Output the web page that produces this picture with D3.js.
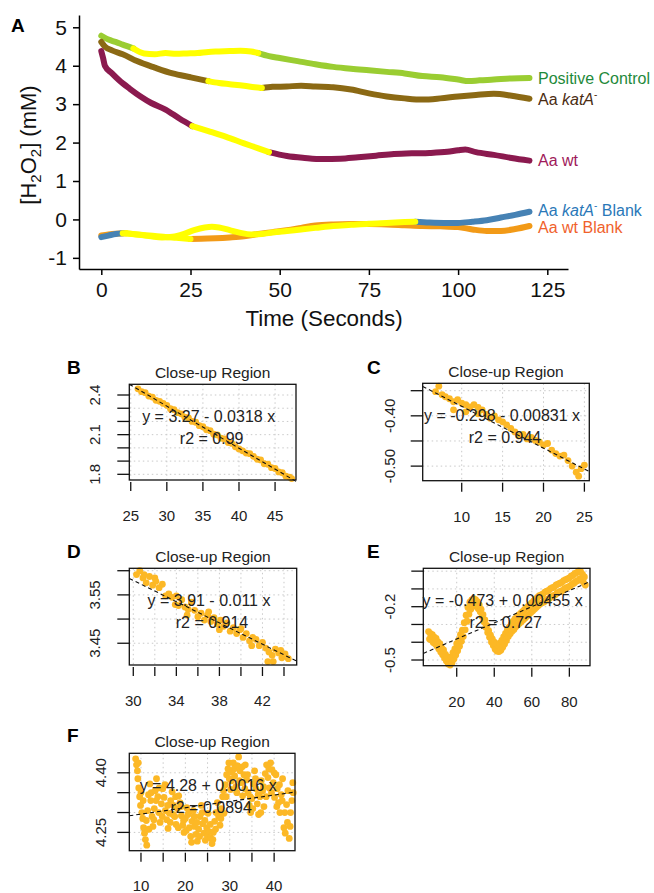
<!DOCTYPE html>
<html>
<head>
<meta charset="utf-8">
<script src="https://cdn.jsdelivr.net/npm/d3@7"></script>
<style>
body { margin: 0; background: #fff; }
svg { display: block; font-family: "Liberation Sans", Arial, sans-serif; }
</style>
</head>
<body>
<svg id="fig" width="654" height="893"></svg>
<script>
// ---------- panel A : H2O2 traces (time in s, value in mM) ----------
var posTime = [0, 2, 4, 6, 9, 12, 15, 18, 21, 24, 27, 30, 33, 36, 39, 42, 44, 47, 50, 55, 60, 65, 70, 75, 80, 85, 90, 95, 100, 103, 106, 110, 115, 120];
var posVal = [4.78, 4.68, 4.62, 4.55, 4.45, 4.32, 4.30, 4.33, 4.31, 4.32, 4.33, 4.36, 4.37, 4.38, 4.39, 4.37, 4.33, 4.25, 4.20, 4.12, 4.04, 3.97, 3.92, 3.88, 3.84, 3.80, 3.73, 3.70, 3.64, 3.60, 3.62, 3.64, 3.67, 3.68];

var katTime = [0, 1, 3, 6, 10, 15, 20, 25, 30, 33, 36, 40, 43, 45, 48, 52, 56, 60, 65, 70, 75, 80, 85, 90, 95, 100, 105, 110, 115, 120];
var katVal = [4.62, 4.50, 4.40, 4.30, 4.12, 3.95, 3.80, 3.70, 3.60, 3.55, 3.52, 3.48, 3.44, 3.42, 3.45, 3.46, 3.48, 3.46, 3.44, 3.38, 3.28, 3.20, 3.15, 3.12, 3.15, 3.20, 3.24, 3.27, 3.22, 3.14];

var wtTime = [0, 0.5, 1, 3, 5, 8, 11, 14, 18, 22, 25.5, 30, 35, 40, 44, 47, 52, 57, 62, 67, 72, 77, 82, 87, 92, 97, 100, 102, 105, 110, 115, 120];
var wtVal = [4.38, 4.20, 4.00, 3.80, 3.62, 3.40, 3.20, 3.03, 2.86, 2.62, 2.43, 2.30, 2.15, 1.98, 1.85, 1.75, 1.65, 1.60, 1.57, 1.58, 1.62, 1.66, 1.70, 1.72, 1.73, 1.76, 1.80, 1.82, 1.75, 1.68, 1.60, 1.53];

var katBlankTime = [0, 2, 4, 6, 8, 11, 14, 17, 20, 23, 26, 29, 31, 33, 36, 39, 42, 45, 48, 52, 56, 60, 65, 70, 75, 80, 85, 88, 92, 96, 100, 104, 108, 112, 116, 120];
var katBlankVal = [-0.46, -0.42, -0.38, -0.36, -0.37, -0.40, -0.44, -0.47, -0.45, -0.38, -0.28, -0.21, -0.19, -0.21, -0.28, -0.35, -0.39, -0.38, -0.34, -0.30, -0.26, -0.22, -0.17, -0.14, -0.11, -0.09, -0.07, -0.06, -0.08, -0.09, -0.09, -0.06, -0.02, 0.05, 0.12, 0.20];

var wtBlankTime = [0, 2, 4, 7, 9, 12, 15, 18, 21, 25, 28, 32, 36, 40, 44, 48, 52, 56, 60, 65, 70, 75, 80, 85, 90, 95, 100, 104, 108, 112, 116, 120];
var wtBlankVal = [-0.42, -0.39, -0.37, -0.36, -0.38, -0.41, -0.43, -0.46, -0.48, -0.51, -0.50, -0.49, -0.47, -0.44, -0.38, -0.33, -0.28, -0.22, -0.16, -0.13, -0.12, -0.12, -0.13, -0.15, -0.17, -0.18, -0.20, -0.26, -0.30, -0.30, -0.25, -0.17];

// highlighted (close-up) windows, seconds
var posHi = [9, 44];
var katHi = [30, 45];
var wtHi = [25.5, 47];
var katBlankHi = [6, 88];
var wtBlankHi = [7, 25];

var xTicksA = [0, 25, 50, 75, 100, 125];
var yTicksA = [-1, 0, 1, 2, 3, 4, 5];

// ---------- close-up panels: [time, value] ----------
var ptsB = [[26.0,2.447],[26.5,2.425],[27.0,2.418],[27.5,2.392],[28.0,2.384],[28.5,2.360],[29.0,2.352],[29.5,2.336],[30.0,2.322],[30.5,2.296],[31.0,2.289],[31.5,2.266],[32.0,2.258],[32.5,2.232],[33.0,2.226],[33.5,2.200],[34.0,2.194],[34.5,2.168],[35.0,2.160],[35.5,2.137],[36.0,2.130],[36.5,2.104],[37.0,2.098],[37.5,2.073],[38.0,2.068],[38.5,2.040],[39.0,2.034],[39.5,2.008],[40.0,1.992],[40.5,1.978],[41.0,1.961],[41.5,1.956],[42.0,1.936],[42.5,1.914],[43.0,1.909],[43.5,1.880],[44.0,1.876],[44.5,1.850],[45.0,1.844],[45.5,1.818],[46.0,1.812],[46.5,1.786],[47.0,1.779],[47.3,1.768]];

var ptsC = [[6.8,-0.352],[7.2,-0.341],[7.6,-0.358],[8.0,-0.362],[8.5,-0.366],[9.0,-0.372],[9.0,-0.388],[9.5,-0.368],[10.0,-0.375],[10.5,-0.378],[10.5,-0.392],[11.0,-0.382],[11.5,-0.378],[12.0,-0.383],[12.0,-0.396],[12.5,-0.388],[13.0,-0.397],[13.5,-0.405],[14.0,-0.400],[14.5,-0.408],[15.0,-0.412],[15.5,-0.418],[16.0,-0.425],[16.5,-0.432],[17.0,-0.440],[17.5,-0.437],[18.0,-0.446],[18.5,-0.443],[19.0,-0.449],[19.5,-0.452],[20.0,-0.458],[20.5,-0.455],[21.0,-0.468],[21.5,-0.475],[22.0,-0.480],[22.5,-0.478],[23.0,-0.489],[23.5,-0.500],[24.0,-0.512],[24.3,-0.520],[24.6,-0.505],[25.0,-0.498]];

var ptsD = [[30.3,3.592],[30.6,3.600],[30.9,3.585],[31.0,3.592],[31.2,3.575],[31.5,3.588],[31.8,3.570],[32.0,3.585],[32.1,3.578],[32.4,3.565],[32.7,3.572],[33.0,3.548],[33.3,3.552],[33.6,3.545],[33.9,3.530],[34.0,3.548],[34.2,3.528],[34.5,3.540],[34.8,3.525],[35.0,3.508],[35.1,3.520],[35.4,3.535],[35.7,3.518],[36.0,3.505],[36.3,3.512],[36.6,3.498],[36.9,3.508],[37.0,3.515],[37.2,3.495],[37.5,3.503],[37.8,3.490],[38.0,3.478],[38.1,3.498],[38.4,3.485],[38.7,3.492],[39.0,3.475],[39.3,3.482],[39.6,3.470],[39.9,3.478],[40.0,3.480],[40.2,3.462],[40.5,3.470],[40.8,3.455],[41.0,3.445],[41.1,3.462],[41.4,3.458],[41.7,3.445],[42.0,3.452],[42.3,3.440],[42.5,3.412],[42.6,3.432],[42.9,3.425],[43.0,3.412],[43.2,3.438],[43.5,3.430],[43.7,3.435],[43.8,3.420],[44.1,3.428],[44.4,3.418]];

var ptsE = [[5,-0.340],[5.5,-0.382],[6,-0.352],[6.5,-0.388],[7,-0.358],[7.5,-0.402],[8,-0.372],[8.5,-0.408],[9,-0.378],[9.5,-0.422],[10,-0.398],[10.5,-0.438],[11,-0.408],[11.5,-0.455],[12,-0.432],[12.5,-0.470],[13,-0.443],[13.5,-0.488],[14,-0.468],[14.5,-0.505],[15,-0.482],[15.5,-0.522],[16,-0.488],[16.5,-0.528],[17,-0.482],[17.5,-0.515],[18,-0.458],[18.5,-0.495],[19,-0.438],[19.5,-0.472],[20,-0.408],[20.5,-0.448],[21,-0.388],[21.5,-0.422],[22,-0.358],[22.5,-0.395],[23,-0.332],[23.5,-0.368],[24,-0.290],[24.5,-0.330],[25,-0.248],[25.5,-0.282],[26,-0.205],[26.5,-0.242],[27,-0.175],[27.5,-0.215],[28,-0.162],[28.5,-0.198],[29,-0.155],[29.5,-0.195],[30,-0.160],[30.5,-0.198],[31,-0.172],[31.5,-0.212],[32,-0.190],[32.5,-0.228],[33,-0.215],[33.5,-0.255],[34,-0.245],[34.5,-0.285],[35,-0.275],[35.5,-0.315],[36,-0.305],[36.5,-0.345],[37,-0.335],[37.5,-0.372],[38,-0.360],[38.5,-0.398],[39,-0.382],[39.5,-0.418],[40,-0.400],[40.5,-0.440],[41,-0.410],[41.5,-0.450],[42,-0.415],[42.5,-0.452],[43,-0.405],[43.5,-0.445],[44,-0.390],[44.5,-0.428],[45,-0.370],[45.5,-0.410],[46,-0.350],[46.5,-0.390],[47,-0.330],[47.5,-0.368],[48,-0.315],[48.5,-0.352],[49,-0.300],[49.5,-0.338],[50,-0.283],[50.5,-0.328],[51,-0.268],[51.5,-0.313],[52,-0.258],[52.5,-0.303],[53,-0.248],[53.5,-0.293],[54,-0.238],[54.5,-0.283],[55,-0.228],[55.5,-0.273],[56,-0.218],[56.5,-0.263],[57,-0.208],[57.5,-0.253],[58,-0.198],[58.5,-0.243],[59,-0.188],[59.5,-0.233],[60,-0.178],[60.5,-0.223],[61,-0.168],[61.5,-0.213],[62,-0.158],[62.5,-0.203],[63,-0.148],[63.5,-0.193],[64,-0.138],[64.5,-0.183],[65,-0.133],[65.5,-0.178],[66,-0.128],[66.5,-0.173],[67,-0.118],[67.5,-0.163],[68,-0.113],[68.5,-0.158],[69,-0.108],[69.5,-0.153],[70,-0.098],[70.5,-0.143],[71,-0.093],[71.5,-0.138],[72,-0.088],[72.5,-0.133],[73,-0.078],[73.5,-0.123],[74,-0.073],[74.5,-0.118],[75,-0.068],[75.5,-0.113],[76,-0.063],[76.5,-0.108],[77,-0.053],[77.5,-0.098],[78,-0.048],[78.5,-0.093],[79,-0.043],[79.5,-0.088],[80,-0.038],[80.5,-0.083],[81,-0.028],[81.5,-0.073],[82,-0.023],[82.5,-0.068],[83,-0.013],[83.5,-0.058],[84,-0.008],[84.5,-0.053],[85,0.002],[85.5,-0.043],[86,-0.003],[86.5,-0.048],[87,-0.018],[87.5,-0.063],[88,-0.033],[88.5,-0.078]];

var ptsF = [[8.8,4.435],[9.0,4.420],[9.2,4.405],[9.3,4.385],[9.4,4.425],[9.5,4.362],[9.7,4.340],[9.9,4.318],[10.0,4.350],[10.2,4.300],[10.4,4.285],[10.5,4.330],[10.6,4.262],[10.8,4.248],[11.0,4.232],[11.2,4.280],[11.3,4.218],[11.5,4.305],[11.7,4.345],[11.8,4.258],[12.0,4.372],[12.2,4.330],[12.3,4.350],[12.5,4.290],[12.7,4.265],[12.9,4.282],[13.0,4.310],[13.2,4.355],[13.4,4.330],[13.5,4.385],[13.8,4.340],[14.0,4.300],[14.1,4.362],[14.3,4.275],[14.6,4.322],[14.8,4.290],[14.9,4.360],[15.2,4.338],[15.4,4.370],[15.5,4.305],[15.8,4.282],[16.0,4.318],[16.1,4.260],[16.4,4.298],[16.6,4.275],[16.7,4.330],[17.0,4.352],[17.2,4.295],[17.3,4.318],[17.6,4.290],[17.8,4.340],[17.9,4.270],[18.2,4.310],[18.4,4.262],[18.5,4.342],[18.8,4.325],[19.0,4.315],[19.1,4.292],[19.4,4.268],[19.6,4.280],[19.7,4.250],[20.0,4.285],[20.2,4.255],[20.3,4.312],[20.6,4.295],[20.8,4.300],[20.9,4.262],[21.2,4.240],[21.4,4.225],[21.5,4.278],[21.8,4.305],[22.0,4.290],[22.1,4.265],[22.4,4.245],[22.6,4.275],[22.7,4.228],[23.0,4.258],[23.2,4.240],[23.3,4.290],[23.6,4.318],[23.8,4.300],[23.9,4.272],[24.2,4.248],[24.4,4.280],[24.5,4.230],[24.8,4.262],[25.0,4.240],[25.1,4.298],[25.4,4.252],[25.6,4.270],[25.7,4.236],[26.0,4.222],[26.2,4.232],[26.3,4.250],[26.6,4.278],[26.8,4.258],[26.9,4.300],[27.2,4.325],[27.4,4.300],[27.5,4.290],[27.8,4.268],[28.0,4.285],[28.1,4.310],[28.4,4.340],[28.6,4.355],[28.7,4.298],[29.0,4.370],[29.2,4.340],[29.3,4.395],[29.6,4.410],[29.8,4.425],[29.9,4.385],[30.2,4.358],[30.4,4.380],[30.5,4.402],[30.8,4.425],[31.0,4.410],[31.1,4.392],[31.4,4.365],[31.6,4.350],[31.7,4.418],[32.0,4.440],[32.2,4.380],[32.3,4.405],[32.6,4.375],[32.8,4.415],[32.9,4.342],[33.2,4.395],[33.4,4.360],[33.5,4.420],[33.8,4.382],[34.0,4.395],[34.1,4.350],[34.4,4.318],[34.6,4.340],[34.7,4.300],[35.0,4.335],[35.2,4.310],[35.3,4.372],[35.6,4.405],[35.8,4.385],[35.9,4.360],[36.2,4.322],[36.4,4.345],[36.5,4.295],[36.8,4.340],[37.0,4.300],[37.1,4.380],[37.4,4.355],[37.6,4.365],[37.7,4.315],[38.0,4.398],[38.2,4.340],[38.3,4.420],[38.6,4.388],[38.8,4.410],[38.9,4.362],[39.2,4.425],[39.4,4.350],[39.5,4.408],[39.8,4.375],[40.0,4.400],[40.1,4.338],[40.4,4.395],[40.6,4.315],[40.7,4.360],[41.0,4.325],[41.2,4.370],[41.3,4.300],[41.6,4.345],[41.8,4.330],[41.9,4.385],[42.2,4.262],[42.4,4.300],[42.5,4.248],[42.8,4.320],[43.0,4.275],[43.1,4.355],[43.4,4.235],[43.6,4.265],[43.7,4.300],[44.0,4.330],[44.2,4.375],[44.3,4.350]];

// fitted lines: [intercept, slope], r2
var fitB = [3.27, -0.0318], r2B = "0.99";
var fitC = [-0.298, -0.00831], r2C = "0.944";
var fitD = [3.91, -0.011], r2D = "0.914";
var fitE = [-0.473, 0.00455], r2E = "0.727";
var fitF = [4.28, 0.0016], r2F = "0.0894";

// axis ticks and the labels R kept
var xTicksB = [25, 30, 35, 40, 45], xLabB = [25, 30, 35, 40, 45];
var yTicksB = [1.8, 1.9, 2.0, 2.1, 2.2, 2.3, 2.4], yLabB = [1.8, 2.1, 2.4];
var xTicksC = [10, 15, 20, 25], xLabC = [10, 15, 20, 25];
var yTicksC = [-0.50, -0.45, -0.40, -0.35], yLabC = [-0.50, -0.40];
var xTicksD = [30, 32, 34, 36, 38, 40, 42, 44], xLabD = [30, 34, 38, 42];
var yTicksD = [3.45, 3.50, 3.55, 3.60], yLabD = [3.45, 3.55];
var xTicksE = [20, 40, 60, 80], xLabE = [20, 40, 60, 80];
var yTicksE = [-0.5, -0.4, -0.3, -0.2, -0.1, 0.0], yLabE = [-0.5, -0.2];
var xTicksF = [10, 15, 20, 25, 30, 35, 40], xLabF = [10, 20, 30, 40];
var yTicksF = [4.25, 4.30, 4.35, 4.40], yLabF = [4.25, 4.40];

var HILITE = "#ffff00";
var DOT = "#fcb826";

var svg = d3.select('#fig');

// ================= panel A =================
var xA = d3.scaleLinear().domain([-6.25, 130.8]).range([79, 568]);
var yA = d3.scaleLinear().domain([-1.29, 5.32]).range([269, 15]);

var gA = svg.append('g');

var plain = function(d) { return String(d); };
var axX = gA.append('g')
    .attr('transform', 'translate(0,269)')
    .call(d3.axisBottom(xA).tickValues(xTicksA).tickFormat(plain)
        .tickSize(6).tickSizeOuter(0).tickPadding(7));
var axY = gA.append('g')
    .attr('transform', 'translate(79,0)')
    .call(d3.axisLeft(yA).tickValues(yTicksA).tickFormat(plain)
        .tickSize(6).tickSizeOuter(0).tickPadding(6));

[axX, axY].forEach(function(ax) {
    ax.selectAll('path, line').attr('stroke', '#000').attr('stroke-width', 1.5);
    ax.selectAll('text').attr('font-size', 21).attr('fill', '#111')
        .attr('font-family', '"Liberation Sans", Arial, sans-serif');
});

gA.append('text')
    .attr('x', 324).attr('y', 326)
    .attr('text-anchor', 'middle')
    .attr('font-size', 22.4).attr('fill', '#111')
    .text('Time (Seconds)');

var yl = gA.append('text')
    .attr('transform', 'translate(36,145) rotate(-90)')
    .attr('text-anchor', 'middle')
    .attr('font-size', 22).attr('fill', '#111');
yl.append('tspan').text('[H');
yl.append('tspan').attr('font-size', 15).attr('dy', 5).text('2');
yl.append('tspan').attr('dy', -5).text('O');
yl.append('tspan').attr('font-size', 15).attr('dy', 5).text('2');
yl.append('tspan').attr('dy', -5).text('] (mM)');

var series = [
    {time: wtBlankTime, val: wtBlankVal, hi: wtBlankHi, color: '#f29a17'},
    {time: katBlankTime, val: katBlankVal, hi: katBlankHi, color: '#4682b4'},
    {time: posTime, val: posVal, hi: posHi, color: '#9acd32'},
    {time: katTime, val: katVal, hi: katHi, color: '#8b6914'},
    {time: wtTime, val: wtVal, hi: wtHi, color: '#8b1a4f'}
];

var lineA = d3.line()
    .x(function(d) { return xA(d[0]); })
    .y(function(d) { return yA(d[1]); })
    .curve(d3.curveMonotoneX);

series.forEach(function(s) {
    var pts = s.time.map(function(t, i) { return [t, s.val[i]]; });
    var parts = [
        {c: s.color, p: pts.filter(function(d) { return d[0] <= s.hi[0]; })},
        {c: s.color, p: pts.filter(function(d) { return d[0] >= s.hi[1]; })},
        {c: HILITE, p: pts.filter(function(d) { return d[0] >= s.hi[0] && d[0] <= s.hi[1]; })}
    ];
    gA.selectAll(null)
        .data(parts)
        .enter()
        .append('path')
        .attr('d', function(d) { return lineA(d.p); })
        .attr('fill', 'none')
        .attr('stroke', function(d) { return d.c; })
        .attr('stroke-width', 6)
        .attr('stroke-linecap', 'round')
        .attr('stroke-linejoin', 'round');
});

// series labels
function seriesLabel(y, color, parts) {
    var t = gA.append('text').attr('x', 538).attr('y', y)
        .attr('font-size', 16).attr('fill', color);
    parts.forEach(function(p) {
        var ts = t.append('tspan').text(p.s);
        if (p.i) ts.attr('font-style', 'italic');
        if (p.sup) ts.attr('font-size', 10).attr('dy', -7);
        if (p.back) ts.attr('dy', 7);
    });
}
seriesLabel(84, '#1f8a3b', [{s: 'Positive Control'}]);
seriesLabel(105, '#4a2c12', [{s: 'Aa '}, {s: 'katA', i: true}, {s: '-', sup: true}]);
seriesLabel(166, '#a01a5a', [{s: 'Aa wt'}]);
seriesLabel(216, '#2a78b8', [{s: 'Aa '}, {s: 'katA', i: true}, {s: '-', sup: true}, {s: ' Blank', back: true}]);
seriesLabel(233, '#f0622c', [{s: 'Aa wt Blank'}]);

svg.append('text').attr('x', 11).attr('y', 32)
    .attr('font-size', 19).attr('font-weight', 'bold').text('A');

// ================= close-up panels =================
function closeUp(c) {
    var g = svg.append('g');
    var x = d3.scaleLinear().domain(c.xd).range([c.box[0], c.box[1]]);
    var y = d3.scaleLinear().domain(c.yd).range([c.box[3], c.box[2]]);
    var fmt = d3.format(c.fmt);

    // dotted grid
    g.selectAll('.gx').data(c.xt).enter().append('line')
        .attr('x1', function(d) { return x(d); }).attr('x2', function(d) { return x(d); })
        .attr('y1', c.box[2]).attr('y2', c.box[3])
        .attr('stroke', '#c9c9c9').attr('stroke-dasharray', '1.5,3');
    g.selectAll('.gy').data(c.yt).enter().append('line')
        .attr('x1', c.box[0]).attr('x2', c.box[1])
        .attr('y1', function(d) { return y(d); }).attr('y2', function(d) { return y(d); })
        .attr('stroke', '#c9c9c9').attr('stroke-dasharray', '1.5,3');

    g.selectAll('circle').data(c.pts).enter().append('circle')
        .attr('cx', function(d) { return x(d[0]); })
        .attr('cy', function(d) { return y(d[1]); })
        .attr('r', 3.4)
        .attr('fill', DOT);

    // regression line across the plot
    g.append('line')
        .attr('x1', x(c.xd[0])).attr('y1', y(c.fit[0] + c.fit[1] * c.xd[0]))
        .attr('x2', x(c.xd[1])).attr('y2', y(c.fit[0] + c.fit[1] * c.xd[1]))
        .attr('stroke', '#111').attr('stroke-width', 1.1).attr('stroke-dasharray', '4,3');

    g.append('rect')
        .attr('x', c.box[0]).attr('y', c.box[2])
        .attr('width', c.box[1] - c.box[0]).attr('height', c.box[3] - c.box[2])
        .attr('fill', 'none').attr('stroke', '#111').attr('stroke-width', 1.3);

    // ticks
    g.selectAll('.tx').data(c.xt).enter().append('line')
        .attr('x1', function(d) { return x(d); }).attr('x2', function(d) { return x(d); })
        .attr('y1', c.box[3] + 2).attr('y2', c.box[3] + 11)
        .attr('stroke', '#111').attr('stroke-width', 1.3);
    g.selectAll('.ty').data(c.yt).enter().append('line')
        .attr('x1', c.box[0] - 12).attr('x2', c.box[0])
        .attr('y1', function(d) { return y(d); }).attr('y2', function(d) { return y(d); })
        .attr('stroke', '#111').attr('stroke-width', 1.3);

    g.selectAll('.lx').data(c.xl).enter().append('text')
        .attr('x', function(d) { return x(d); })
        .attr('y', c.box[3] + c.xlOff)
        .attr('text-anchor', 'middle').attr('font-size', 15).attr('fill', '#222')
        .text(function(d) { return d; });
    g.selectAll('.ly').data(c.yl).enter().append('text')
        .attr('transform', function(d) { return 'translate(' + (c.box[0] - c.ylOff) + ',' + y(d) + ') rotate(-90)'; })
        .attr('text-anchor', 'middle').attr('font-size', 15).attr('fill', '#222')
        .text(function(d) { return fmt(d).replace('\u2212', '-'); });

    var cx = (c.box[0] + c.box[1]) / 2;
    g.append('text').attr('x', cx).attr('y', c.box[2] - 6)
        .attr('text-anchor', 'middle').attr('font-size', 15.5).attr('fill', '#222')
        .text('Close-up Region');
    g.append('text').attr('x', cx - 4).attr('y', c.box[2] + 38)
        .attr('text-anchor', 'middle').attr('font-size', 16).attr('fill', '#222')
        .text(c.eq);
    g.append('text').attr('x', cx - 1).attr('y', c.box[2] + 60)
        .attr('text-anchor', 'middle').attr('font-size', 16).attr('fill', '#222')
        .text('r2 = ' + c.r2);

    svg.append('text').attr('x', c.lab[0]).attr('y', c.lab[1])
        .attr('font-size', 19).attr('font-weight', 'bold').text(c.letter);
}

closeUp({letter: 'B', lab: [67, 374], box: [129.3, 296, 384.3, 480], xd: [24.8, 47.9], yd: [1.757, 2.481],
    xt: xTicksB, xl: xLabB, yt: yTicksB, yl: yLabB, fmt: '.1f', ylOff: 29, xlOff: 41,
    pts: ptsB, fit: fitB, r2: r2B, eq: 'y = 3.27 - 0.0318 x'});
closeUp({letter: 'C', lab: [367, 374], box: [422.7, 589.3, 383.3, 480.7], xd: [5.23, 25.6], yd: [-0.529, -0.3353],
    xt: xTicksC, xl: xLabC, yt: yTicksC, yl: yLabC, fmt: '.2f', ylOff: 28, xlOff: 41,
    pts: ptsC, fit: fitC, r2: r2C, eq: 'y = -0.298 - 0.00831 x'});
closeUp({letter: 'D', lab: [67, 558], box: [129.3, 296.7, 568.3, 665], xd: [29.63, 45.18], yd: [3.405, 3.605],
    xt: xTicksD, xl: xLabD, yt: yTicksD, yl: yLabD, fmt: '.2f', ylOff: 29, xlOff: 41,
    pts: ptsD, fit: fitD, r2: r2D, eq: 'y = 3.91 - 0.011 x'});
closeUp({letter: 'E', lab: [367, 558], box: [423.3, 590, 568.3, 665.7], xd: [2.2, 91.0], yd: [-0.532, 0.016],
    xt: xTicksE, xl: xLabE, yt: yTicksE, yl: yLabE, fmt: '.1f', ylOff: 28, xlOff: 41,
    pts: ptsE, fit: fitE, r2: r2E, eq: 'y = -0.473 + 0.00455 x'});
closeUp({letter: 'F', lab: [67, 742], box: [129.3, 295, 753.3, 850.7], xd: [7.37, 44.7], yd: [4.204, 4.449],
    xt: xTicksF, xl: xLabF, yt: yTicksF, yl: yLabF, fmt: '.2f', ylOff: 23, xlOff: 40,
    pts: ptsF, fit: fitF, r2: r2F, eq: 'y = 4.28 + 0.0016 x'});
</script>
</body>
</html>
